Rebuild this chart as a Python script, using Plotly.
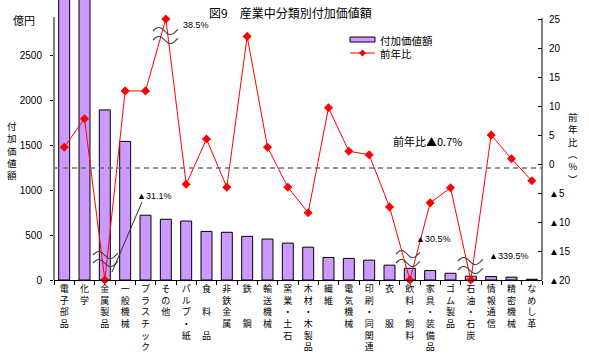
import numpy as np
import plotly.graph_objects as go

# ---------------- data ----------------
categories = ["電子部品", "化学", "金属製品", "一般機械", "プラスチック", "その他",
              "パルプ・紙", "食　料　品", "非鉄金属", "鉄　　鋼", "輸送機械", "窯業・土石",
              "木材・木製品", "繊維", "電気機械", "印刷・同関連", "衣　　服", "飲料・飼料",
              "家具・装備品", "ゴム製品", "石油・石炭", "情報通信", "精密機械", "なめし革"]
value_added = [3300, 3200, 1890, 1540, 720, 675, 655, 540, 530, 485, 455, 410,
               365, 250, 240, 220, 165, 130, 105, 75, 42, 38, 32, 8]          # 億円
yoy_pct = [2.9, 7.8, -31.1, 12.6, 12.6, 38.5, -3.5, 4.3, -4.0, 22.0, 2.9, -4.0,
           -8.4, 9.7, 2.2, 1.6, -7.4, -30.5, -6.7, -4.1, -339.5, 5.0, 0.9, -2.9]  # %
total_yoy = -0.7
left_ticks = [0, 500, 1000, 1500, 2000, 2500]
right_ticks = [-20, -15, -10, -5, 0, 5, 10, 15, 20, 25]
right_ticktext = ["▲20", "▲15", "▲10", "▲5", "0", "5", "10", "15", "20", "25"]

# ---------------- geometry helpers (pixel -> paper) ----------------
W, H = 589, 359
PL, PR, PT, PB = 54, 542, 0, 280


def px(x):
    return (x - PL) / (PR - PL)


def py(y):
    return (PB - y) / (PB - PT)


LEFT_MAX = 2500 / (PB - 55) * (PB - PT)
RIGHT_MIN = -20
RIGHT_MAX = -20 + 45 / (280 - 19) * (PB - PT)

yoy_display = np.clip(np.array(yoy_pct), -20, 25)
vlabels = ["<br>".join(list(c)) for c in categories]

CJK = "Noto Sans CJK JP"
NUM = "Liberation Sans, Noto Sans CJK JP"

fig = go.Figure()
fig.add_trace(go.Bar(
    x=categories, y=value_added, name="付加価値額",
    marker=dict(color="#CC99FF", line=dict(color="black", width=1)),
    showlegend=False,
))
fig.add_trace(go.Scatter(
    x=categories, y=yoy_display, name="前年比", yaxis="y2",
    mode="lines+markers", line=dict(color="#FF0000", width=1),
    marker=dict(symbol="diamond", size=7, color="#FF0000"),
    cliponaxis=False, showlegend=False,
))

shapes = []
# axis lines
shapes.append(dict(type="line", xref="paper", yref="paper", x0=0, x1=0, y0=0, y1=py(17),
                   line=dict(color="black", width=1)))
shapes.append(dict(type="line", xref="paper", yref="paper", x0=1, x1=1, y0=0, y1=py(18),
                   line=dict(color="black", width=1)))
# total yoy dashed line
shapes.append(dict(type="line", xref="paper", yref="y2", x0=0, x1=1, y0=total_yoy, y1=total_yoy,
                   line=dict(color="#707070", width=1.5, dash="5px,4px"), layer="above"))


def wave_path(x0, x1, ymid, amp):
    ts = np.linspace(0, 1.08, 24)
    pts = [(px(x0 + (x1 - x0) * t / 1.08), py(ymid - amp * np.sin(2 * np.pi * t))) for t in ts]
    return "M " + " L ".join(f"{a:.5f},{b:.5f}" for a, b in pts)


for (xa, xb, y_up, y_lo) in [(93, 118, 255, 263), (153, 178, 31, 40),
                             (396, 420, 254, 263), (458, 483, 261, 270)]:
    for ym in (y_up, y_lo):
        shapes.append(dict(type="path", xref="paper", yref="paper", path=wave_path(xa, xb, ym, 3.5),
                           line=dict(color="#404040", width=1.1), layer="above"))
# leader line for ▲31.1%
shapes.append(dict(type="line", xref="paper", yref="paper", x0=px(142), y0=py(202), x1=px(112), y1=py(272),
                   line=dict(color="#303030", width=1), layer="above"))

# manual legend
shapes.append(dict(type="rect", xref="paper", yref="paper", x0=px(350), x1=px(375), y0=py(42), y1=py(37),
                   fillcolor="#CC99FF", line=dict(color="black", width=1)))
shapes.append(dict(type="line", xref="paper", yref="paper", x0=px(350), x1=px(375), y0=py(53), y1=py(53),
                   line=dict(color="#FF0000", width=1)))
cx, cy = 362.5, 53
shapes.append(dict(type="path", xref="paper", yref="paper",
                   path=f"M {px(cx-3.5)},{py(cy)} L {px(cx)},{py(cy-3.5)} L {px(cx+3.5)},{py(cy)} L {px(cx)},{py(cy+3.5)} Z",
                   fillcolor="#FF0000", line=dict(color="#FF0000", width=0)))

annotations = []


def add_text(text, x, y, size, family=CJK, xanchor="left", yanchor="middle"):
    annotations.append(dict(text=text, xref="paper", yref="paper", x=px(x), y=py(y),
                            xanchor=xanchor, yanchor=yanchor, showarrow=False, borderpad=0,
                            font=dict(family=family, size=size, color="black")))


add_text("図9　産業中分類別付加価値額", 208, 13, 12)
add_text("付加価値額", 379, 40, 10.5)
add_text("前年比", 379, 54, 10.5)
add_text("億円", 12, 20, 11)
add_text("付<br>加<br>価<br>値<br>額", 12, 150, 9.5, xanchor="center")
add_text("前<br>年<br>比<br>︵<br>%<br>︶", 573, 148, 9.5, xanchor="center")
add_text("38.5%", 182, 25, 9, family=NUM)
add_text("▲31.1%", 136, 196, 9, family=NUM)
add_text("前年比▲0.7%", 392, 141, 11)
add_text("▲30.5%", 415, 239, 9, family=NUM)
add_text("▲339.5%", 488, 256, 9, family=NUM)

fig.update_layout(
    width=W, height=H,
    margin=dict(l=PL, r=W - PR, t=PT, b=H - PB, pad=0, autoexpand=False),
    paper_bgcolor="white", plot_bgcolor="white",
    bargap=0.46,
    showlegend=False,
    hovermode=False,
    shapes=shapes, annotations=annotations,
    xaxis=dict(type="category", tickmode="array", tickvals=categories, ticktext=vlabels,
               tickson="boundaries", ticks="outside", ticklen=4, tickcolor="black",
               showline=True, linecolor="black", linewidth=1, showgrid=False,
               tickfont=dict(family=CJK, size=9, color="black"), tickangle=0,
               automargin=False, range=[-0.5, len(categories) - 0.5]),
    yaxis=dict(range=[0, LEFT_MAX], tickvals=left_ticks, ticks="outside", ticklen=3,
               tickcolor="black", showline=False, showgrid=False, zeroline=False, automargin=False,
               tickfont=dict(family=NUM, size=10, color="black"), ticklabelstandoff=6),
    yaxis2=dict(range=[RIGHT_MIN, RIGHT_MAX], overlaying="y", side="right",
                tickvals=right_ticks, ticktext=right_ticktext, ticks="inside", ticklen=4,
                tickcolor="black", showline=False, showgrid=False, zeroline=False, automargin=False,
                tickfont=dict(family=NUM, size=10, color="black"), ticklabelstandoff=6),
)

fig.write_html("out.html", config={"displayModeBar": False, "staticPlot": True},
               post_script="document.body.style.margin='0';document.body.style.padding='0';")
